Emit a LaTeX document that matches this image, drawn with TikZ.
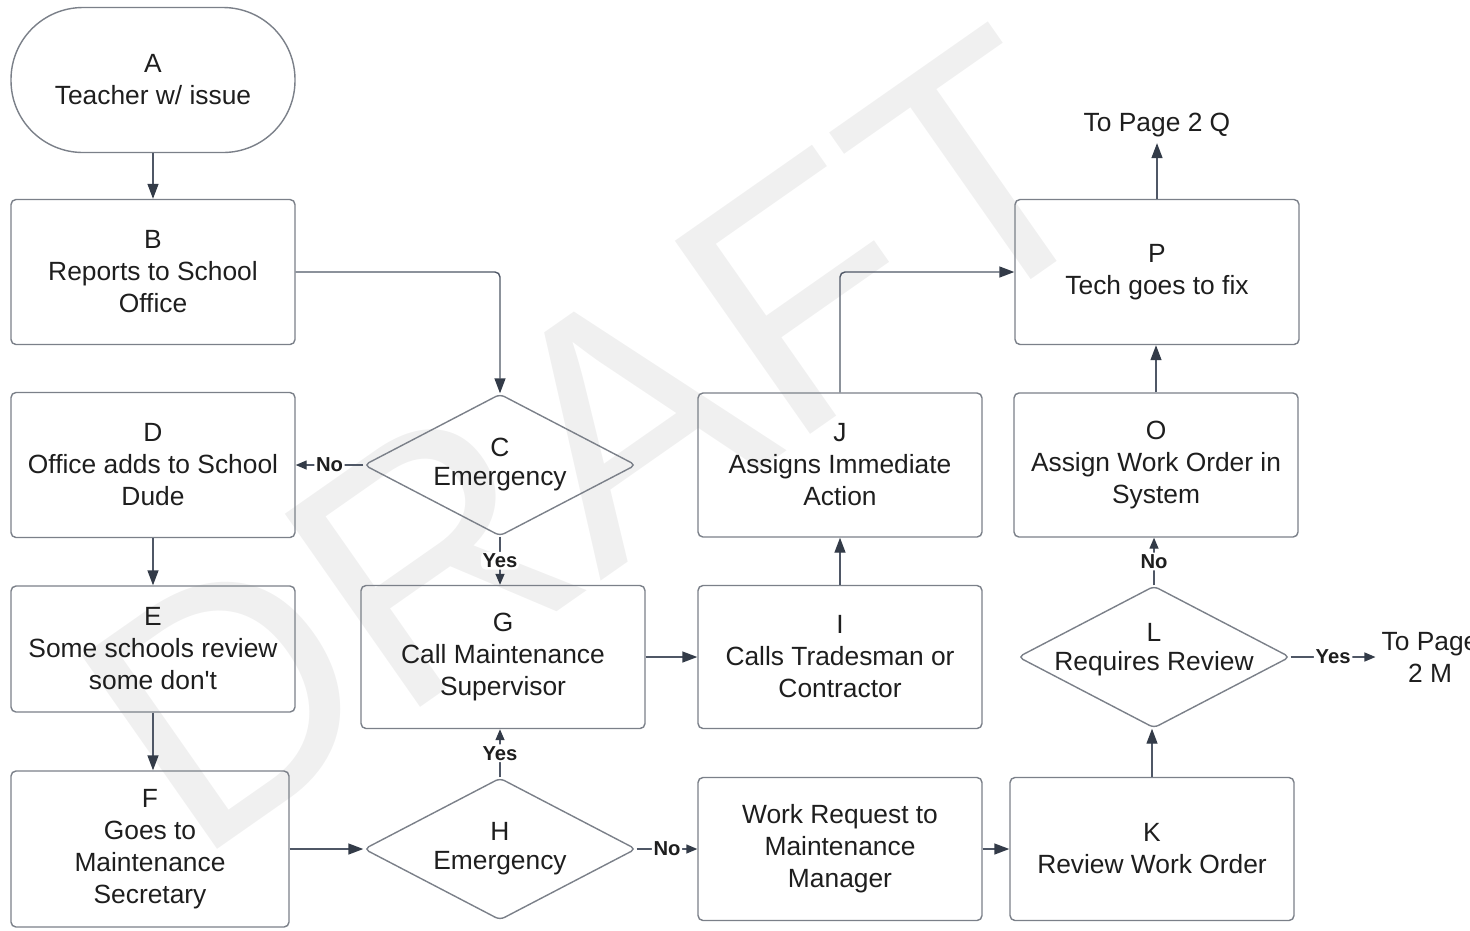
\documentclass[tikz,border=0pt]{standalone}
\usepackage{fontspec}
\setmainfont{Liberation Sans}[Ligatures=TeXOff]
\usetikzlibrary{arrows.meta,shapes.geometric}
\definecolor{Frame}{HTML}{7B8089}
\definecolor{Wire}{HTML}{4F5766}
\definecolor{Tip}{HTML}{333B48}
\definecolor{Ink}{HTML}{1E1E1E}
\definecolor{Stamp}{HTML}{F0F0F0}

\begin{document}
\begin{tikzpicture}[x=0.2mm,y=-0.2mm,
    >={Triangle[length=3mm,width=2.2mm,color=Tip]},
    every node/.style={text=Ink,font=\fontsize{15}{18.2}\selectfont},
    box/.style={draw=Frame,line width=0.8pt,rounded corners=1mm,align=center,minimum width=56.8mm,minimum height=29mm},
    term/.style={box,rounded corners=14.4mm},
    decide/.style={draw=Frame,line width=0.8pt,diamond,rounded corners=1mm,minimum width=54.4mm,minimum height=28.4mm,inner sep=0pt},
    dtext/.style={align=center,font=\fontsize{15}{16.5}\selectfont},
    flow/.style={->,draw=Wire,line width=0.8pt,rounded corners=1mm},
    tagged/.style={>={Triangle[length=2.2mm,width=1.8mm,color=Tip]}},
    tag/.style={fill=white,inner sep=1pt,font=\fontsize{11.5}{12}\selectfont\bfseries}]
  \clip (0,0) rectangle (1470,930);
  % watermark behind everything
  \node[rotate=35,text=Stamp,font=\fontsize{195}{195}\selectfont,inner sep=0pt] (stamp) at (595,441) {DRAFT};

  % left column
  \node[term] (A) at (153,80) {A\\Teacher w/ issue};
  \node[box] (B) at (153,272) {B\\Reports to School\\Office};
  \node[box] (D) at (153,465) {D\\Office adds to School\\Dude};
  \node[box,minimum height=25.2mm] (E) at (153,649) {E\\Some schools review\\some don't};
  \node[box,minimum width=55.6mm,minimum height=31.2mm] (F) at (150,849) {F\\Goes to\\Maintenance\\Secretary};
  % decisions and middle column
  \node[decide,label={[dtext]center:{C\\Emergency}}] (C) at (500,465) {};
  \node[box,minimum height=28.6mm] (G) at (503,657) {G\\Call Maintenance\\Supervisor};
  \node[decide,label={[dtext]center:{H\\Emergency}}] (H) at (500,849) {};
  \node[box,minimum height=28.6mm] (I) at (840,657) {I\\Calls Tradesman or\\Contractor};
  \node[box,minimum height=28.8mm] (J) at (840,465) {J\\Assigns Immediate\\Action};
  \node[box,minimum height=28.6mm] (W) at (840,849) {Work Request to\\Maintenance\\Manager};
  % right column
  \node[box,minimum height=28.6mm] (K) at (1152,849) {K\\Review Work Order};
  \node[decide,label={[dtext,yshift=1.5mm]center:{L\\Requires Review}}] (L) at (1154,657) {};
  \node[box,minimum height=28.8mm] (O) at (1156,465) {O\\Assign Work Order in\\System};
  \node[box] (P) at (1157,272) {P\\Tech goes to fix};
  \node (Q) at (1157,125) {To Page 2 Q};
  \node[align=center] (M) at (1430,657) {To Page\\2 M};

  \draw[flow] (A) -- (B);
  \draw[flow] (B.east) -| (C.north);
  \draw[flow,tagged] (C.west) -- node[tag]{No} (D.east);
  \draw[flow,tagged] (C.south) -- node[tag]{Yes} (C.south |- G.north);
  \draw[flow] (D) -- (E);
  \draw[flow] (E.south) -- (E.south |- F.north);
  \draw[flow] (F.east) -- (H.west);
  \draw[flow,tagged] (H.north) -- node[tag]{Yes} (H.north |- G.south);
  \draw[flow,tagged] (H.east) -- node[tag]{No} (W.west);
  \draw[flow] (G) -- (I);
  \draw[flow] (I) -- (J);
  \draw[flow] (J.north) |- (P.west);
  \draw[flow] (W) -- (K);
  \draw[flow] (K.north) -- (K.north |- L.south);
  \draw[flow,tagged] (L.north) -- node[tag]{No} (L.north |- O.south);
  \draw[flow,tagged] (L.east) -- node[tag]{Yes} (M.west);
  \draw[flow] (O.north) -- (O.north |- P.south);
  \draw[flow] (P.north) -- (Q);
\end{tikzpicture}
\end{document}
